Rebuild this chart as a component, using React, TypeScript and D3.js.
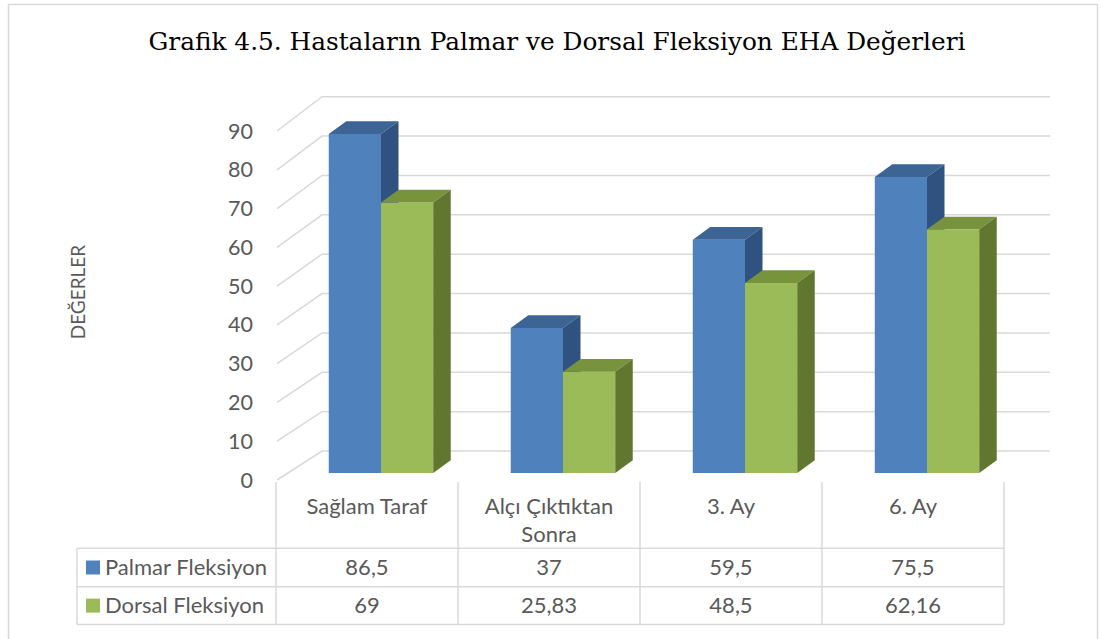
import * as d3 from 'd3';

const title = 'Grafik 4.5. Hastaların Palmar ve Dorsal Fleksiyon EHA Değerleri';
const axisTitle = 'DEĞERLER';
const categories = ['Sağlam Taraf', 'Alçı Çıktıktan Sonra', '3. Ay', '6. Ay'];
const categoryLines = [['Sağlam Taraf'], ['Alçı Çıktıktan', 'Sonra'], ['3. Ay'], ['6. Ay']];
const seriesNames = ['Palmar Fleksiyon', 'Dorsal Fleksiyon'];
const palmar = [86.5, 37, 59.5, 75.5];
const dorsal = [69, 25.83, 48.5, 62.16];
const yTicks = [0, 10, 20, 30, 40, 50, 60, 70, 80, 90];

const W = 1105;
const H = 639;
const FONT = 'Lato, "Open Sans", sans-serif';
const TEXT = '#595959';
const GRID = '#d9d9d9';

// faces: front, top, side
const faces = [
    { front: '#4f81bd', top: '#3c6494', side: '#2f5281' },
    { front: '#9bbb59', top: '#77933c', side: '#61772f' },
];

export default function App() {
    const series = [palmar, dorsal];

    // table columns, also the category slots of the plot
    const x = d3.scaleBand<string>().domain(categories).range([276, 1004]);
    // front edge of the side wall, back wall and the bars' front plane
    const yFront = d3.scaleLinear().domain([0, 90]).range([480, 131]);
    const yBack = d3.scaleLinear().domain([0, 90]).range([451, 96.7]);
    const yBar = d3.scaleLinear().domain([0, 90]).range([473, 120.2]);

    const wallFrontX = 277;
    const wallBackX = 322;
    const wallRight = 1050;
    const barW = x.bandwidth() * 0.287;
    const barShift = 14;
    const dx = 17.5;
    const dy = -12.7;

    const fmt = (v: number) => String(v).replace('.', ',');

    const tableLeft = 77;
    const headTop = 482;
    const rowLines = [548.3, 586.7, 624.5];

    const bars: JSX.Element[] = [];
    categories.forEach((c, i) => {
        const cx = (x(c) as number) + x.bandwidth() / 2 + barShift;
        series.forEach((s, k) => {
            const x0 = cx - barW + k * barW;
            const x1 = x0 + barW;
            const yt = yBar(s[i]);
            const yb = yBar(0);
            const f = faces[k];
            bars.push(
                <g key={`${i}-${k}`}>
                    <rect x={x0} y={yt} width={barW} height={yb - yt} fill={f.front} />
                    <path
                        d={`M${x0},${yt}L${x1},${yt}L${x1 + dx},${yt + dy}L${x0 + dx},${yt + dy}Z`}
                        fill={f.top}
                    />
                    <path
                        d={`M${x1},${yt}L${x1 + dx},${yt + dy}L${x1 + dx},${yb + dy}L${x1},${yb}Z`}
                        fill={f.side}
                    />
                </g>
            );
        });
    });

    return (
        <svg width={W} height={H} style={{ position: 'absolute', left: 0, top: 0, background: '#fff' }}>
            <rect x={8.5} y={4.5} width={1089} height={640} fill="#fff" stroke={GRID} strokeWidth={1.5} />

            <text
                x={557}
                y={50}
                textAnchor="middle"
                fontFamily='"DejaVu Serif", serif'
                fontSize={24}
                fill="#000"
                textLength={817}
                lengthAdjust="spacingAndGlyphs"
            >
                {title}
            </text>

            {/* walls */}
            {yTicks.map(t => (
                <g key={t}>
                    <polyline
                        points={`${wallFrontX},${yFront(t)} ${wallBackX},${yBack(t)} ${wallRight},${yBack(t)}`}
                        fill="none"
                        stroke={GRID}
                        strokeWidth={1.5}
                    />
                    <text
                        x={253}
                        y={yFront(t)}
                        dy="0.35em"
                        textAnchor="end"
                        fontFamily={FONT}
                        fontSize={21.5}
                        fill={TEXT}
                    >
                        {t}
                    </text>
                </g>
            ))}

            <text
                transform="translate(85,292) rotate(-90)"
                textAnchor="middle"
                fontFamily={FONT}
                fontSize={19}
                fill={TEXT}
            >
                {axisTitle}
            </text>

            {bars}

            {/* data table */}
            <g stroke={GRID} strokeWidth={1.5}>
                {categories.map(c => (
                    <line key={c} x1={x(c)} x2={x(c)} y1={headTop} y2={rowLines[2]} />
                ))}
                <line x1={x.range()[1]} x2={x.range()[1]} y1={headTop} y2={rowLines[2]} />
                <line x1={tableLeft} x2={tableLeft} y1={rowLines[0]} y2={rowLines[2]} />
                {rowLines.map(y => (
                    <line key={y} x1={tableLeft} x2={x.range()[1]} y1={y} y2={y} />
                ))}
            </g>

            {categories.map((c, i) => (
                <text
                    key={c}
                    x={(x(c) as number) + x.bandwidth() / 2}
                    y={514}
                    textAnchor="middle"
                    fontFamily={FONT}
                    fontSize={22}
                    fill={TEXT}
                >
                    {categoryLines[i].map((l, j) => (
                        <tspan key={j} x={(x(c) as number) + x.bandwidth() / 2} dy={j === 0 ? 0 : 28}>
                            {l}
                        </tspan>
                    ))}
                </text>
            ))}

            {series.map((s, k) => {
                const yMid = (rowLines[k] + rowLines[k + 1]) / 2;
                return (
                    <g key={seriesNames[k]}>
                        <rect x={86} y={yMid - 7} width={14} height={14} fill={faces[k].front} />
                        <text x={105} y={yMid} dy="0.35em" fontFamily={FONT} fontSize={22} fill={TEXT}>
                            {seriesNames[k]}
                        </text>
                        {categories.map((c, i) => (
                            <text
                                key={c}
                                x={(x(c) as number) + x.bandwidth() / 2}
                                y={yMid}
                                dy="0.35em"
                                textAnchor="middle"
                                fontFamily={FONT}
                                fontSize={22}
                                fill={TEXT}
                            >
                                {fmt(s[i])}
                            </text>
                        ))}
                    </g>
                );
            })}
        </svg>
    );
}
